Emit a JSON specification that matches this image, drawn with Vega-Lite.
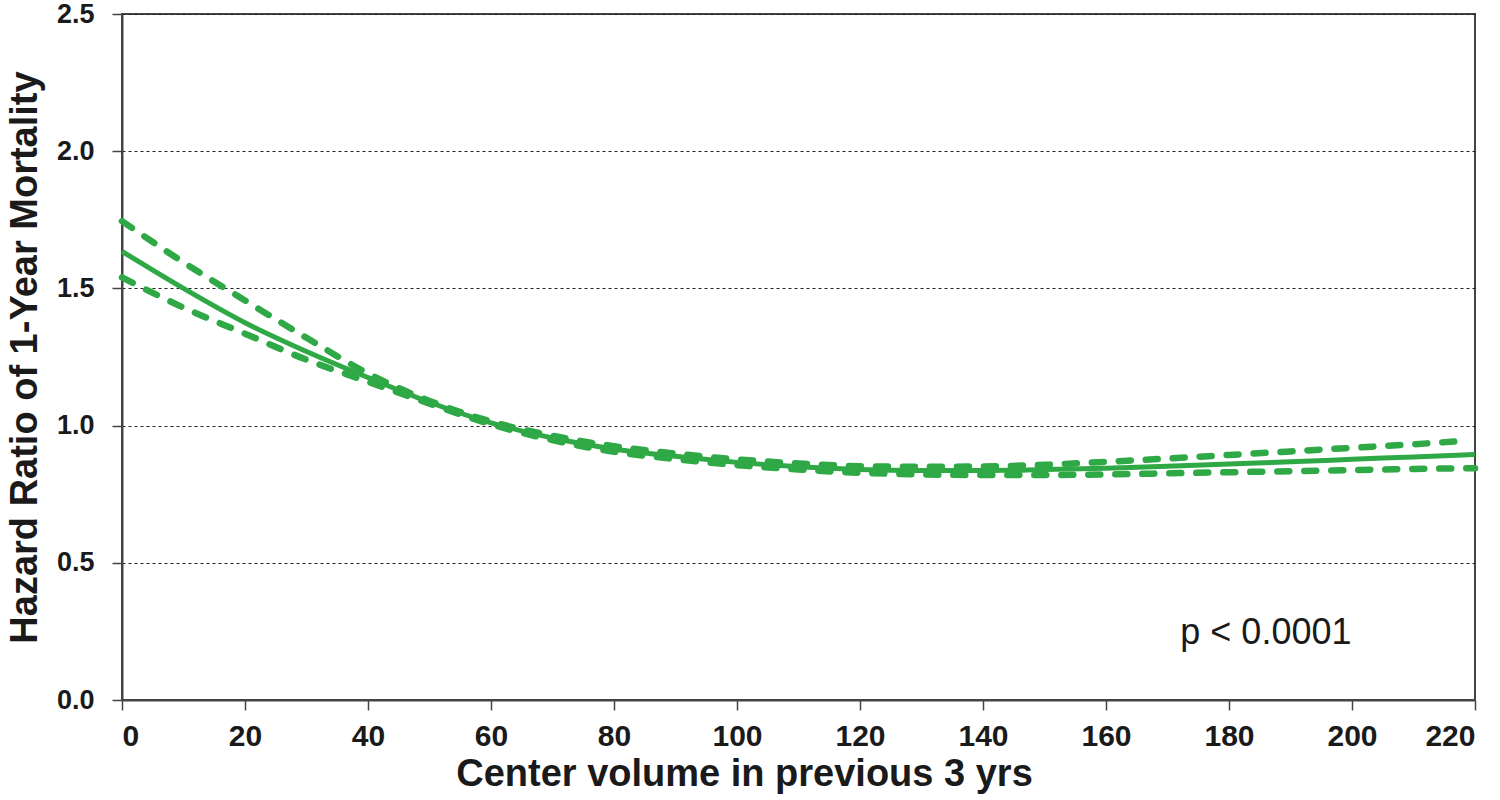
{
  "$schema": "https://vega.github.io/schema/vega-lite/v6.json",
  "width": 1353,
  "height": 686,
  "autosize": {"type": "none"},
  "padding": {"left": 122, "top": 14, "right": 25, "bottom": 100},
  "background": "white",
  "config": {
    "view": {"stroke": "#444444", "strokeWidth": 2},
    "axis": {"domainColor": "#444444", "domainWidth": 2, "tickColor": "#444444", "tickWidth": 1.5, "tickSize": 10, "labelColor": "#1a1a1a", "titleColor": "#1a1a1a"}
  },
  "datasets": {
    "curves": [
      {"x": 0, "series": "HR", "hr": 1.635}, {"x": 10, "series": "HR", "hr": 1.5}, {"x": 20, "series": "HR", "hr": 1.375}, {"x": 30, "series": "HR", "hr": 1.27}, {"x": 40, "series": "HR", "hr": 1.175}, {"x": 50, "series": "HR", "hr": 1.085}, {"x": 60, "series": "HR", "hr": 1.01}, {"x": 70, "series": "HR", "hr": 0.955}, {"x": 80, "series": "HR", "hr": 0.915}, {"x": 90, "series": "HR", "hr": 0.888}, {"x": 100, "series": "HR", "hr": 0.866}, {"x": 110, "series": "HR", "hr": 0.85}, {"x": 120, "series": "HR", "hr": 0.84}, {"x": 130, "series": "HR", "hr": 0.836}, {"x": 140, "series": "HR", "hr": 0.836}, {"x": 150, "series": "HR", "hr": 0.84}, {"x": 160, "series": "HR", "hr": 0.845}, {"x": 170, "series": "HR", "hr": 0.852}, {"x": 180, "series": "HR", "hr": 0.86}, {"x": 190, "series": "HR", "hr": 0.868}, {"x": 200, "series": "HR", "hr": 0.877}, {"x": 210, "series": "HR", "hr": 0.886}, {"x": 220, "series": "HR", "hr": 0.895},
      {"x": 0, "series": "Upper", "hr": 1.745}, {"x": 10, "series": "Upper", "hr": 1.595}, {"x": 20, "series": "Upper", "hr": 1.456}, {"x": 30, "series": "Upper", "hr": 1.32}, {"x": 40, "series": "Upper", "hr": 1.19}, {"x": 50, "series": "Upper", "hr": 1.09}, {"x": 60, "series": "Upper", "hr": 1.015}, {"x": 70, "series": "Upper", "hr": 0.963}, {"x": 80, "series": "Upper", "hr": 0.925}, {"x": 90, "series": "Upper", "hr": 0.898}, {"x": 100, "series": "Upper", "hr": 0.877}, {"x": 110, "series": "Upper", "hr": 0.862}, {"x": 120, "series": "Upper", "hr": 0.852}, {"x": 130, "series": "Upper", "hr": 0.85}, {"x": 140, "series": "Upper", "hr": 0.851}, {"x": 150, "series": "Upper", "hr": 0.857}, {"x": 160, "series": "Upper", "hr": 0.868}, {"x": 170, "series": "Upper", "hr": 0.88}, {"x": 180, "series": "Upper", "hr": 0.893}, {"x": 190, "series": "Upper", "hr": 0.906}, {"x": 200, "series": "Upper", "hr": 0.919}, {"x": 210, "series": "Upper", "hr": 0.932}, {"x": 218, "series": "Upper", "hr": 0.944},
      {"x": 0, "series": "Lower", "hr": 1.54}, {"x": 10, "series": "Lower", "hr": 1.43}, {"x": 20, "series": "Lower", "hr": 1.335}, {"x": 30, "series": "Lower", "hr": 1.24}, {"x": 40, "series": "Lower", "hr": 1.16}, {"x": 50, "series": "Lower", "hr": 1.08}, {"x": 60, "series": "Lower", "hr": 1.005}, {"x": 70, "series": "Lower", "hr": 0.947}, {"x": 80, "series": "Lower", "hr": 0.905}, {"x": 90, "series": "Lower", "hr": 0.878}, {"x": 100, "series": "Lower", "hr": 0.856}, {"x": 110, "series": "Lower", "hr": 0.84}, {"x": 120, "series": "Lower", "hr": 0.828}, {"x": 130, "series": "Lower", "hr": 0.822}, {"x": 140, "series": "Lower", "hr": 0.82}, {"x": 150, "series": "Lower", "hr": 0.82}, {"x": 160, "series": "Lower", "hr": 0.822}, {"x": 170, "series": "Lower", "hr": 0.826}, {"x": 180, "series": "Lower", "hr": 0.83}, {"x": 190, "series": "Lower", "hr": 0.834}, {"x": 200, "series": "Lower", "hr": 0.838}, {"x": 210, "series": "Lower", "hr": 0.842}, {"x": 220, "series": "Lower", "hr": 0.845}
    ],
    "note": [{"x": 186, "hr": 0.245, "label": "p < 0.0001"}]
  },
  "layer": [
    {
      "data": {"name": "curves"},
      "transform": [{"filter": "datum.series !== 'HR'"}],
      "mark": {"type": "line", "color": "#2fa846", "strokeWidth": 6.5, "strokeDash": [12, 15], "strokeCap": "round", "interpolate": "monotone"},
      "encoding": {
        "x": {"field": "x", "type": "quantitative", "scale": {"domain": [0, 220], "nice": false, "zero": false},
          "axis": {"values": [0, 20, 40, 60, 80, 100, 120, 140, 160, 180, 200, 220], "grid": false, "title": "Center volume in previous 3 yrs", "labelFont": "Liberation Sans", "labelFontWeight": "bold", "labelFontSize": 30, "labelPadding": 11, "titleFont": "Liberation Sans", "titleFontWeight": "bold", "titleFontSize": 38, "titlePadding": 4, "titleX": 622}},
        "y": {"field": "hr", "type": "quantitative", "scale": {"domain": [0, 2.5], "nice": false},
          "axis": {"values": [0, 0.5, 1, 1.5, 2, 2.5], "format": ".1f", "grid": true, "gridColor": "#222222", "gridDash": [3, 3], "gridWidth": 1, "title": "Hazard Ratio of 1-Year Mortality", "labelFont": "Liberation Sans", "labelFontWeight": "bold", "labelFontSize": 27, "labelPadding": 18, "titleFont": "Liberation Sans", "titleFontWeight": "bold", "titleFontSize": 38, "titlePadding": 12}},
        "detail": {"field": "series"}
      }
    },
    {
      "data": {"name": "curves"},
      "transform": [{"filter": "datum.series === 'HR'"}],
      "mark": {"type": "line", "color": "#2fa846", "strokeWidth": 5, "interpolate": "monotone"},
      "encoding": {
        "x": {"field": "x", "type": "quantitative"},
        "y": {"field": "hr", "type": "quantitative"}
      }
    },
    {
      "data": {"name": "note"},
      "mark": {"type": "text", "font": "Liberation Sans", "fontSize": 36, "color": "#1a1a1a", "align": "center", "baseline": "middle"},
      "encoding": {
        "x": {"field": "x", "type": "quantitative"},
        "y": {"field": "hr", "type": "quantitative"},
        "text": {"field": "label"}
      }
    }
  ]
}
